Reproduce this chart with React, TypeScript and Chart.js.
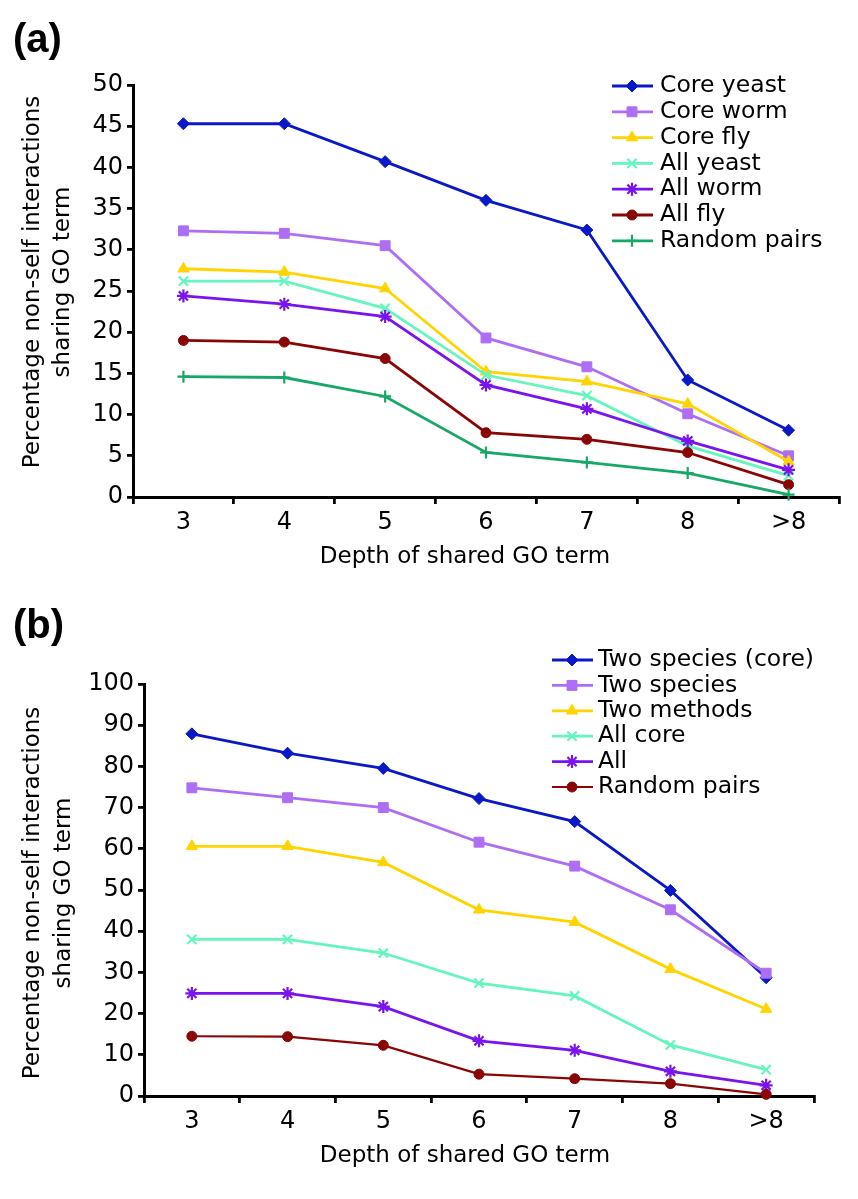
import React, { useEffect, useRef } from 'react';
import { Chart, registerables } from 'chart.js';
import { drawPoint } from 'chart.js/helpers';

Chart.register(...registerables);

// ---------- data ----------
const depthLabels = ['3', '4', '5', '6', '7', '8', '>8'];
const yTicksA = [0, 5, 10, 15, 20, 25, 30, 35, 40, 45, 50];
const yTicksB = [0, 10, 20, 30, 40, 50, 60, 70, 80, 90, 100];

const xTitle = 'Depth of shared GO term';
const yTitle = ['Percentage non-self interactions', 'sharing GO term'];

// Panel (a)
const coreYeast = [45.3, 45.3, 40.7, 36.0, 32.4, 14.2, 8.1];
const coreWorm = [32.3, 32.0, 30.5, 19.3, 15.8, 10.1, 5.0];
const coreFly = [27.7, 27.3, 25.3, 15.2, 14.0, 11.3, 4.3];
const allYeast = [26.2, 26.2, 22.9, 14.8, 12.3, 6.2, 2.6];
const allWorm = [24.4, 23.4, 21.9, 13.6, 10.7, 6.8, 3.3];
const allFly = [19.0, 18.8, 16.8, 7.8, 7.0, 5.4, 1.5];
const randomPairsA = [14.6, 14.5, 12.2, 5.4, 4.2, 2.9, 0.3];

// Panel (b)
const twoSpeciesCore = [87.9, 83.2, 79.5, 72.2, 66.6, 49.9, 28.7];
const twoSpecies = [74.8, 72.4, 70.0, 61.6, 55.8, 45.2, 29.8];
const twoMethods = [60.6, 60.6, 56.7, 45.2, 42.2, 30.8, 21.1];
const allCore = [38.0, 38.0, 34.7, 27.4, 24.3, 12.4, 6.4];
const allB = [24.9, 24.9, 21.7, 13.4, 11.1, 6.0, 2.6];
const randomPairsB = [14.5, 14.4, 12.3, 5.3, 4.2, 3.0, 0.4];

// ---------- styles ----------
const FONT = '"DejaVu Sans", sans-serif';
const BLUE = '#0a18c6';
const LAVENDER = '#ad6ef4';
const GOLD = '#ffd400';
const AQUA = '#66f4bf';
const VIOLET = '#7a14ee';
const DARKRED = '#8a0606';
const GREEN = '#17a867';

function series(label: string, data: number[], color: string, pointStyle: string, radius: number, pbw: number, lw = 2.8) {
  return {
    label,
    data,
    borderColor: color,
    backgroundColor: color,
    pointBackgroundColor: color,
    pointBorderColor: color,
    pointStyle,
    pointRadius: radius,
    pointHoverRadius: radius,
    pointBorderWidth: pbw,
    borderWidth: lw,
    tension: 0,
    fill: false,
    clip: false,
  };
}

const datasetsA = [
  series('Core yeast', coreYeast, BLUE, 'rectRot', 6, 1),
  series('Core worm', coreWorm, LAVENDER, 'rect', 7, 1),
  series('Core fly', coreFly, GOLD, 'triangle', 6.5, 1),
  series('All yeast', allYeast, AQUA, 'crossRot', 6.5, 2.2),
  series('All worm', allWorm, VIOLET, 'star', 6.5, 2.2),
  series('All fly', allFly, DARKRED, 'circle', 5, 1),
  series('Random pairs', randomPairsA, GREEN, 'cross', 6, 2.2),
];

const datasetsB = [
  series('Two species (core)', twoSpeciesCore, BLUE, 'rectRot', 6, 1),
  series('Two species', twoSpecies, LAVENDER, 'rect', 7, 1),
  series('Two methods', twoMethods, GOLD, 'triangle', 6.5, 1),
  series('All core', allCore, AQUA, 'crossRot', 6.5, 2.2),
  series('All', allB, VIOLET, 'star', 6.5, 2.2),
  series('Random pairs', randomPairsB, DARKRED, 'circle', 5, 1, 2.2),
];

// ---------- plugin: panel label, axis titles, legend ----------
const overlayPlugin = {
  id: 'overlay',
  afterDraw(chart: any, _args: any, o: any) {
    const ctx = chart.ctx as CanvasRenderingContext2D;
    ctx.save();
    ctx.fillStyle = '#000';
    // panel label
    ctx.font = `bold ${o.panelSize}px "Liberation Sans", Arial, sans-serif`;
    ctx.textAlign = 'left';
    ctx.textBaseline = 'alphabetic';
    ctx.fillText(o.panel, o.panelX, o.panelY);
    // x title
    ctx.font = `${o.titleSize}px ${FONT}`;
    ctx.textAlign = 'center';
    ctx.textBaseline = 'middle';
    ctx.fillText(o.xTitle, o.xTitleX, o.xTitleY);
    // y title (rotated)
    ctx.save();
    ctx.translate(o.yTitleX, o.yTitleY);
    ctx.rotate(-Math.PI / 2);
    (o.yTitle as string[]).forEach((line, i) => ctx.fillText(line, 0, i * o.yTitleGap));
    ctx.restore();
    // legend
    const L = o.legend;
    chart.data.datasets.forEach((ds: any, i: number) => {
      const y = L.y0 + i * L.dy;
      ctx.strokeStyle = ds.borderColor;
      ctx.lineWidth = ds.borderWidth;
      ctx.beginPath();
      ctx.moveTo(L.x0, y);
      ctx.lineTo(L.x1, y);
      ctx.stroke();
      ctx.fillStyle = ds.pointBackgroundColor;
      ctx.strokeStyle = ds.pointBorderColor;
      ctx.lineWidth = ds.pointBorderWidth;
      drawPoint(ctx, { pointStyle: ds.pointStyle, rotation: 0, radius: ds.pointRadius, borderWidth: ds.pointBorderWidth } as any, L.xm, y);
      ctx.fillStyle = '#000';
      ctx.font = `${L.size}px ${FONT}`;
      ctx.textAlign = 'left';
      ctx.textBaseline = 'middle';
      ctx.fillText(ds.label, L.xt, y);
    });
    ctx.restore();
  },
};

type Geo = {
  width: number;
  height: number;
  left: number;
  right: number;
  top: number;
  bottom: number;
};

function LinePanel({ canvasTop, geo, datasets, yTicks, overlay }: { canvasTop: number; geo: Geo; datasets: any[]; yTicks: number[]; overlay: any }) {
  const ref = useRef<HTMLCanvasElement | null>(null);
  useEffect(() => {
    if (!ref.current) return;
    const n = datasets.length;
    const chart = new Chart(ref.current, {
      type: 'line',
      data: {
        labels: depthLabels,
        datasets: datasets.map((d, i) => ({ ...d, order: n - i })),
      },
      options: {
        responsive: false,
        animation: false,
        events: [],
        layout: { padding: { top: geo.top, right: geo.width - geo.right, left: 0, bottom: 0 } },
        plugins: {
          legend: { display: false },
          tooltip: { enabled: false },
          overlay,
        } as any,
        scales: {
          x: {
            type: 'category',
            offset: true,
            grid: { offset: true, drawOnChartArea: false, drawTicks: true, tickLength: 7, color: '#000', lineWidth: 2.8 },
            border: { display: true, color: '#000', width: 3 },
            ticks: { color: '#000', font: { family: FONT, size: 24 }, padding: 4, maxRotation: 0, autoSkip: false },
            afterFit: (s: any) => {
              s.height = geo.height - geo.bottom;
            },
          },
          y: {
            type: 'linear',
            min: yTicks[0],
            max: yTicks[yTicks.length - 1],
            grid: { drawOnChartArea: false, drawTicks: true, tickLength: 6, color: '#000', lineWidth: 2.8 },
            border: { display: true, color: '#000', width: 3 },
            ticks: { color: '#000', font: { family: FONT, size: 24 }, padding: 4 },
            afterBuildTicks: (s: any) => {
              s.ticks = yTicks.map((v) => ({ value: v }));
            },
            afterFit: (s: any) => {
              s.width = geo.left;
            },
          },
        },
      } as any,
      plugins: [overlayPlugin],
    });
    return () => chart.destroy();
  }, []);
  return (
    <canvas
      ref={ref}
      width={geo.width}
      height={geo.height}
      style={{ position: 'absolute', left: 0, top: canvasTop, width: geo.width, height: geo.height }}
    />
  );
}

export default function App() {
  return (
    <div style={{ position: 'absolute', left: 0, top: 0, width: 858, height: 1199, background: '#fff', overflow: 'hidden' }}>
      <LinePanel
        canvasTop={0}
        geo={{ width: 858, height: 595, left: 133, right: 839, top: 85, bottom: 497 }}
        datasets={datasetsA}
        yTicks={yTicksA}
        overlay={{
          panel: '(a)', panelSize: 40, panelX: 13, panelY: 52,
          titleSize: 23, xTitle, xTitleX: 465, xTitleY: 557,
          yTitle, yTitleX: 33, yTitleY: 282, yTitleGap: 30,
          legend: { x0: 612, x1: 653, xm: 632, xt: 660, y0: 86, dy: 25.8, size: 23.5 },
        }}
      />
      <LinePanel
        canvasTop={595}
        geo={{ width: 858, height: 604, left: 144, right: 814, top: 89, bottom: 501 }}
        datasets={datasetsB}
        yTicks={yTicksB}
        overlay={{
          panel: '(b)', panelSize: 40, panelX: 13, panelY: 43,
          titleSize: 23, xTitle, xTitleX: 465, xTitleY: 561,
          yTitle, yTitleX: 33, yTitleY: 298, yTitleGap: 31,
          legend: { x0: 552, x1: 593, xm: 572, xt: 598, y0: 65, dy: 25.4, size: 23.5 },
        }}
      />
    </div>
  );
}
